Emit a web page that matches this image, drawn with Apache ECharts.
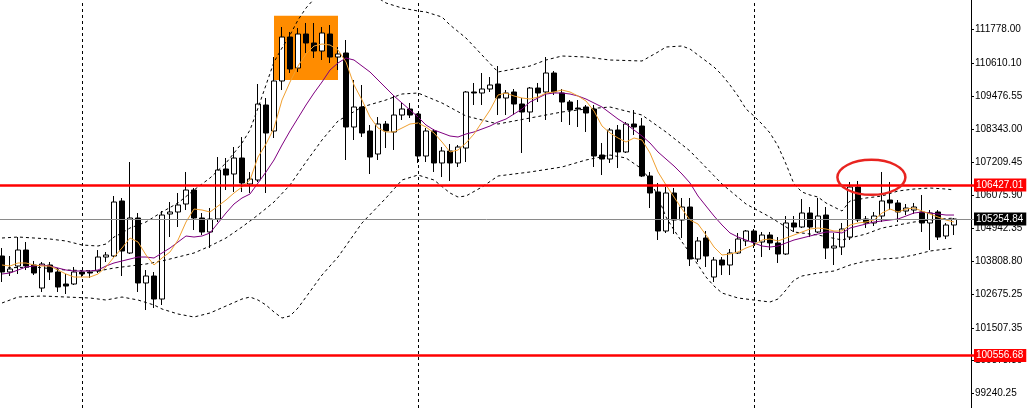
<!DOCTYPE html>
<html><head><meta charset="utf-8">
<script src="https://cdn.jsdelivr.net/npm/echarts@6/dist/echarts.min.js"></script>
<style>html,body{margin:0;padding:0;background:#fff;}#c{width:1029px;height:408px;}</style>
</head><body><div id="c"></div>
<script>
const bars = Array.from({length: 122}, (_, k) => String(k));
const opens = [103981,103430,103636,104187,103671,102878,103671,103430,103016,103016,
103430,103430,103464,103946,103981,105876,104084,105290,103051,103292,
102499,105428,105497,105772,106254,105290,104808,105255,106978,106806,
107357,106461,106599,109183,108287,110010,111525,110457,111629,111319,
111043,111629,110836,110974,108425,109114,108287,107495,108528,108253,
108838,109045,108873,107426,108287,107185,107598,107185,107701,109631,
109596,109734,109906,109424,109631,109217,108942,109768,109631,110285,
109596,109286,109079,109114,109045,107460,107322,108321,107564,108528,
108459,106737,106186,104842,106151,105221,105669,103877,104601,103257,
103843,103671,104084,104498,104842,104463,104704,104429,104050,105118,
104980,105462,104808,105393,104256,104291,104635,106358,105255,105118,
105359,105910,105807,105531,105565,105497,105118,105497,104670,105049];
const closes = [103430,103533,104187,103636,103395,103705,103430,102913,102947,103430,
103361,103395,103946,104015,105841,104153,105290,103051,103292,102499,
105393,105497,105738,106254,105290,104808,105255,106943,106771,107357,
106496,106633,109217,108218,110010,111525,110423,111629,111319,111043,
111663,110836,110940,108425,109114,108218,107391,108528,108287,108838,
109045,108838,107426,108287,107185,107598,107185,107736,109631,109596,
109734,109872,109424,109596,109217,108942,109768,109596,110285,109631,
109286,109010,109045,108907,107426,107322,108321,107564,108528,108425,
106737,106151,104842,106151,105221,105669,103877,104498,103981,103843,
103671,104084,104566,104842,104463,104704,104429,104050,105118,104980,
105462,104980,105359,104256,104325,104911,106358,105221,105118,105359,
105876,105807,105497,105634,105669,105118,105462,104635,105049,105254.84];
const highs = [104256,103981,104635,104463,103809,103774,103774,103567,103361,103602,
103498,103498,104187,104119,106048,105979,107219,105462,103498,103430,
105531,105841,106151,106875,106323,105462,105634,107391,107357,107736,
108080,106875,109906,109424,110836,111870,111698,111835,112008,112008,
111870,111939,111181,111422,110044,109872,108494,108769,108632,109527,
109252,109252,108907,108390,108356,107736,107839,107805,109665,109941,
110285,110147,110526,109699,109734,109424,109803,109941,110836,110354,
109734,109355,109355,109183,109183,107874,108390,108494,108597,109010,
108735,106875,106496,106358,106323,105979,105979,104635,104842,103946,
103946,104222,104773,104876,104911,104808,104808,104635,105359,105359,
105944,105669,105979,105669,104773,105118,106530,106565,105359,105497,
106875,106530,105910,105772,105807,106082,105565,105565,105118,105290];
const lows = [103085,103292,103361,103498,103326,102741,103154,102741,102672,102982,
103257,103223,103395,103774,103946,103292,104050,102741,102120,102189,
102293,104635,104980,105565,104876,104704,104256,105152,106254,106186,
106186,106151,106530,106151,108046,109699,110285,110320,110974,110802,
110733,110630,110388,107288,107977,108080,106806,107288,107701,107633,
108666,108735,107185,107219,106875,106702,106565,107047,107219,109183,
109183,109631,108838,108838,108838,107529,108597,109286,108666,109527,
108597,108494,108425,108253,107047,106771,107185,107012,107529,108149,
106702,105634,104532,104773,104739,104601,103636,103774,103602,103085,
103326,103326,104050,104325,104256,103946,104187,103740,104015,104808,
104945,104635,104773,103877,103671,104015,104532,105152,104945,105014,
105152,105565,105152,105393,105428,104808,104187,104532,104566,104704];
const maFast = [103671,103636,103740,103740,103671,103636,103636,103498,103361,103257,
103257,103257,103361,103602,103946,104256,104601,104463,104015,103671,
103912,104119,104532,105152,105600,105565,105497,105703,105910,106151,
106358,106599,107391,107839,108390,109355,109975,110526,110940,111215,
111284,111250,111077,110664,109872,109355,108769,108390,108253,108253,
108390,108528,108563,108425,108218,107908,107564,107632,107874,108184,
108597,109010,109527,109596,109493,109424,109389,109458,109596,109631,
109699,109631,109493,109321,108976,108459,108218,108046,107908,108046,
107977,107529,106875,106427,106013,105600,105221,105083,104704,104291,
104015,104050,104119,104256,104360,104532,104566,104498,104601,104704,
104808,104911,104945,104911,104842,104842,105049,105118,105152,105221,
105462,105600,105497,105600,105634,105531,105428,105324,105221,105152];
const maSlow = [103361,103395,103498,103602,103636,103671,103636,103567,103498,103464,
103464,103464,103498,103636,103740,103809,103877,103946,103946,103912,
104084,104256,104463,104670,104635,104670,104773,105118,105462,105772,
105979,106117,106496,106875,107288,107805,108287,108735,109183,109596,
109975,110388,110630,110802,110733,110526,110320,110044,109768,109493,
109252,109010,108769,108494,108321,108218,108115,108080,108184,108253,
108356,108459,108597,108700,108873,109045,109286,109424,109562,109596,
109596,109562,109493,109389,109252,109114,108907,108700,108528,108321,
108115,107874,107564,107322,107081,106806,106496,106048,105703,105359,
105049,104773,104635,104532,104429,104325,104291,104325,104429,104532,
104601,104670,104739,104808,104808,104773,104945,105014,105083,105152,
105187,105221,105255,105359,105462,105497,105462,105428,105393,105393];
// Bollinger band lines read at sampled bars: [bar, price]
const bandUpper = [[0,104601],[2,104635],[4,104601],[6,104566],[8,104498],[10,104360],[12,104325],[13,104394],
[14,104635],[15,104773],[16,104945],[18,105152],[20,105497],[22,105807],[24,106255],[26,106668],[28,107185],
[30,107874],[31,108321],[32,109079],[33,109872],[34,110664],[35,111146],[36,111594],[37,112111],[38,112524],
[40,113145],[42,113489],[45,113145],[47,112869],[48,112697],[50,112524],[52,112421],[53,112387],[55,112214],
[56,111939],[58,111491],[60,110905],[62,110320],[64,110423],[66,110526],[68,110733],[70,110871],[73,110836],
[76,110733],[80,110699],[82,111009],[83,111181],[85,111215],[86,111112],[87,110905],[88,110699],[89,110492],
[90,110216],[91,109872],[92,109493],[93,109045],[94,108804],[95,108528],[96,108218],[97,107770],[98,107150],
[99,106461],[100,106186],[101,106082],[102,106013],[103,105807],[104,105669],[105,105531],[106,105876],
[108,105979],[110,106048],[112,106220],[114,106289],[116,106323],[118,106289],[119,106255]];
const bandMiddle = [[0,103567],[4,103602],[8,103498],[12,103464],[14,103567],[16,103636],[18,103705],[20,103809],
[22,103946],[24,104084],[26,104325],[28,104601],[30,104980],[32,105393],[34,105841],[36,106427],[38,107219],
[40,107977],[42,108632],[45,109114],[48,109355],[50,109562],[52,109596],[55,109252],[58,108804],[62,108528],
[66,108735],[70,108942],[73,109045],[76,109114],[80,108838],[83,108253],[86,107598],[90,106461],[93,105772],
[96,105324],[99,104808],[102,104704],[105,104532],[108,104739],[110,104945],[112,105049],[114,105152],
[116,105221],[119,105290]];
const bandLower = [[0,102362],[2,102568],[5,102603],[8,102568],[11,102534],[13,102465],[15,102568],[17,102465],
[19,102293],[20,102155],[22,101983],[24,101879],[26,102017],[28,102258],[30,102499],[31,102568],[32,102465],
[33,102293],[34,102052],[35,101845],[36,101914],[37,102189],[38,102568],[40,103326],[42,103946],[45,105118],
[48,105979],[50,106599],[52,106771],[54,106599],[56,106151],[57,106013],[58,106048],[60,106358],[62,106737],
[66,106875],[70,107047],[73,107288],[76,107460],[78,107357],[80,106978],[81,106599],[82,106013],[83,105324],
[84,104877],[85,104463],[86,104084],[87,103671],[88,103257],[89,102947],[90,102706],[92,102534],[94,102465],
[96,102396],[97,102499],[98,102810],[99,103154],[100,103292],[102,103395],[104,103464],[106,103671],
[108,103809],[110,103877],[112,103912],[114,104015],[116,104153],[118,104222],[119,104256]];
const yTicks = [111778.00,110610.10,109476.55,108343.00,107209.45,106075.90,104942.35,103808.80,102675.25,101507.35,100373.80,99240.25];
const resistance = 106427.01;
const support = 100556.68;
const lastPrice = 105254.84;
const gridBars = [10, 52, 94];
const box = {fromBar: 34, toBar: 42, top: 112260, bottom: 110045};
const ellipseMark = [[108, 106690]];

const FONT = 'Liberation Sans';
const chart = echarts.init(document.getElementById('c'), null, {renderer: 'canvas'});
const candles = opens.map((o, k) => [o, closes[k], lows[k], highs[k]]);
const tag = (text, bg) => ({show: true, position: 'end', distance: 0, formatter: text, color: '#fff',
  backgroundColor: bg, padding: [2, 3, 1, 2], fontSize: 10, fontFamily: FONT});
const bandStyle = {color: '#000', width: 1, type: [3, 3]};
const band = data => ({type: 'line', z: 3, silent: true, data, symbol: 'none', clip: true, lineStyle: bandStyle});

chart.setOption({
  animation: false,
  backgroundColor: '#fff',
  grid: {left: -2, right: 55, top: 0, bottom: 0, containLabel: false, outerBoundsMode: 'none'},
  xAxis: {type: 'category', data: bars, boundaryGap: true, axisLine: {show: false}, axisTick: {show: false},
    axisLabel: {show: false}, splitLine: {show: false}},
  yAxis: {type: 'value', position: 'right', offset: -3, min: 98744.7, max: 112800.3, scale: true,
    axisLine: {show: true, lineStyle: {color: '#000', width: 1}},
    axisTick: {show: true, length: 3, customValues: yTicks, lineStyle: {color: '#000'}},
    axisLabel: {customValues: yTicks, formatter: v => v.toFixed(2), color: '#000', fontSize: 10, fontFamily: FONT, margin: 4},
    splitLine: {show: false}},
  series: [
    {type: 'line', z: 1, silent: true, data: [], symbol: 'none',
      markArea: {silent: true, itemStyle: {color: '#FF8C00', opacity: 1},
        data: [[{xAxis: box.fromBar, yAxis: box.top}, {xAxis: box.toBar, yAxis: box.bottom}]]},
      markLine: {silent: true, symbol: ['none', 'none'], animation: false,
        data: [
          ...gridBars.map(b => ({xAxis: b, lineStyle: {color: '#000', width: 1, type: [3, 3]}, label: {show: false}})),
          {yAxis: lastPrice, lineStyle: {color: '#8a8a8a', width: 1, type: 'solid'}, label: tag('105254.84', '#000')}
        ]}},
    {type: 'candlestick', z: 2, silent: true, data: candles, barWidth: 5,
      itemStyle: {color: '#fff', color0: '#000', borderColor: '#000', borderColor0: '#000', borderWidth: 1}},
    band(bandUpper), band(bandMiddle), band(bandLower),
    {type: 'line', z: 3, silent: true, data: maSlow, symbol: 'none', lineStyle: {color: '#800080', width: 1}},
    {type: 'line', z: 3, silent: true, data: maFast, symbol: 'none', lineStyle: {color: '#F0A030', width: 1}},
    {type: 'line', z: 4, silent: true, data: [], symbol: 'none',
      markLine: {silent: true, symbol: ['none', 'none'], animation: false,
        data: [
          {yAxis: resistance, lineStyle: {color: '#FF0000', width: 2.5, type: 'solid'}, label: tag('106427.01', '#FF0000')},
          {yAxis: support, lineStyle: {color: '#FF0000', width: 2.5, type: 'solid'}, label: tag('100556.68', '#FF0000')}
        ]}},
    {type: 'custom', z: 5, silent: true, data: ellipseMark,
      renderItem: (params, api) => {
        const c = api.coord([api.value(0), api.value(1)]);
        const bw = api.size([1, 0])[0];
        return {type: 'ellipse', shape: {cx: c[0] + 0.675 * bw, cy: c[1], rx: 34, ry: 17.5},
          style: {fill: 'none', stroke: '#E82420', lineWidth: 2.5}};
      }}
  ]
});
</script></body></html>
